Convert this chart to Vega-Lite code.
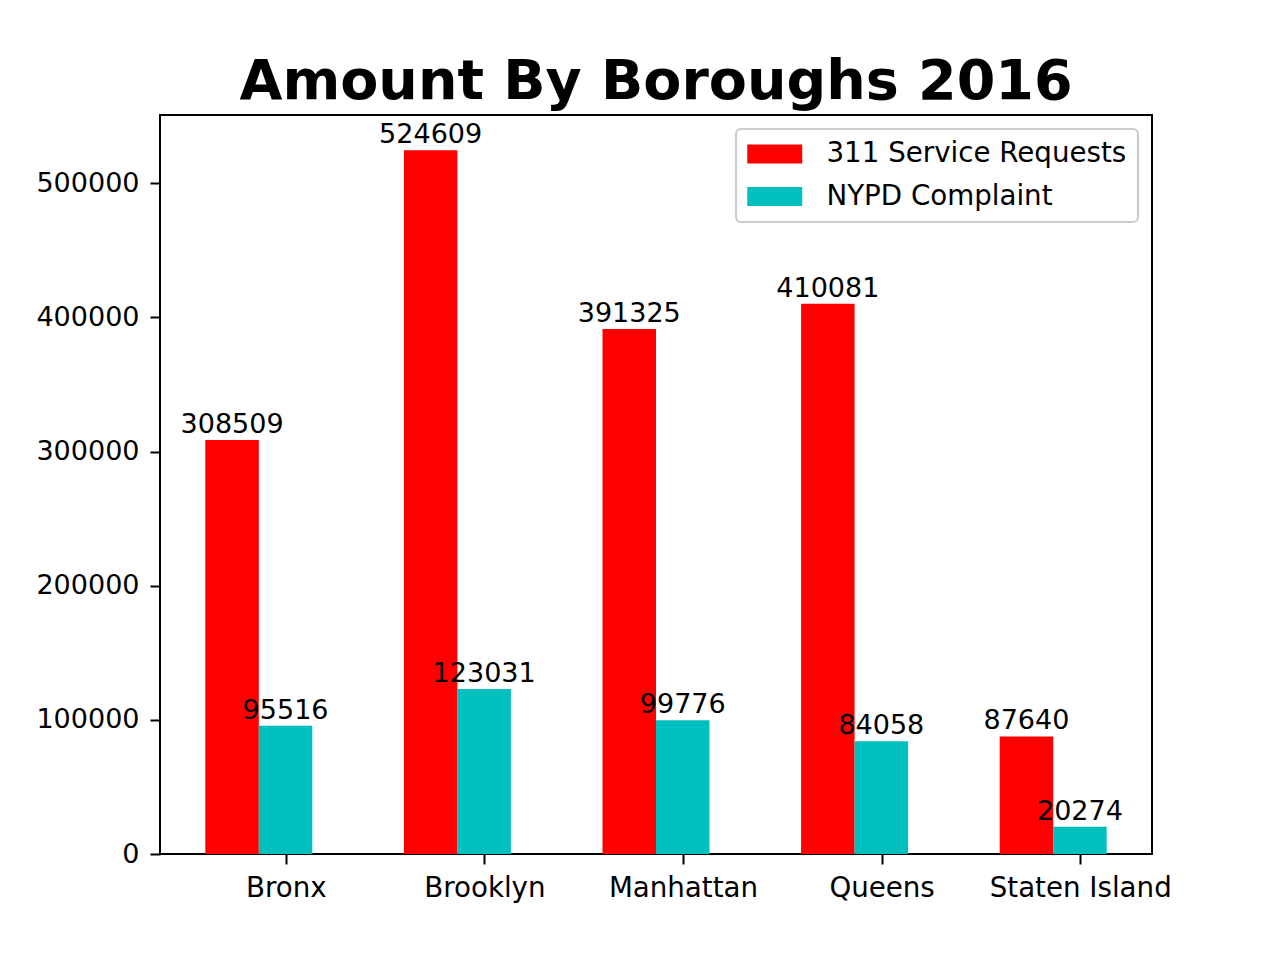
{
  "$schema": "https://vega.github.io/schema/vega-lite/v6.json",
  "width": 992,
  "height": 739,
  "autosize": {"type": "none"},
  "padding": {"left": 160, "top": 115, "right": 128, "bottom": 106},
  "background": "white",
  "title": {
    "text": "Amount By Boroughs 2016",
    "font": "DejaVu Sans",
    "fontSize": 55.5,
    "fontWeight": "bold",
    "color": "black",
    "anchor": "middle",
    "frame": "group",
    "baseline": "alphabetic",
    "offset": 14,
    "dy": 53
  },
  "config": {
    "font": "DejaVu Sans",
    "view": {"stroke": "black", "strokeWidth": 2},
    "axis": {
      "labelFont": "DejaVu Sans",
      "labelFontSize": 27,
      "labelColor": "black",
      "domainColor": "black",
      "domainWidth": 2,
      "tickColor": "black",
      "tickWidth": 2,
      "tickSize": 10,
      "grid": false,
      "title": null
    },
    "legend": {
      "fillColor": "white",
      "strokeColor": "#cccccc",
      "strokeWidth": 2.2,
      "cornerRadius": 5,
      "padding": 11
    }
  },
  "data": {
    "values": [
      {"borough": "Bronx", "series": "311 Service Requests", "amount": 308509},
      {"borough": "Brooklyn", "series": "311 Service Requests", "amount": 524609},
      {"borough": "Manhattan", "series": "311 Service Requests", "amount": 391325},
      {"borough": "Queens", "series": "311 Service Requests", "amount": 410081},
      {"borough": "Staten Island", "series": "311 Service Requests", "amount": 87640},
      {"borough": "Bronx", "series": "NYPD Complaint", "amount": 95516},
      {"borough": "Brooklyn", "series": "NYPD Complaint", "amount": 123031},
      {"borough": "Manhattan", "series": "NYPD Complaint", "amount": 99776},
      {"borough": "Queens", "series": "NYPD Complaint", "amount": 84058},
      {"borough": "Staten Island", "series": "NYPD Complaint", "amount": 20274}
    ]
  },
  "encoding": {
    "x": {
      "field": "borough",
      "type": "nominal",
      "sort": ["Bronx", "Brooklyn", "Manhattan", "Queens", "Staten Island"],
      "scale": {"paddingInner": 0.4612, "paddingOuter": 0.2281},
      "axis": {"labelAngle": 0, "tickOffset": 27, "labelPadding": 10, "labelFontSize": 27.7, "labelLimit": 400, "domain": false}
    },
    "xOffset": {
      "field": "series",
      "type": "nominal",
      "sort": ["311 Service Requests", "NYPD Complaint"],
      "scale": {"paddingInner": 0, "paddingOuter": 0}
    },
    "y": {
      "field": "amount",
      "type": "quantitative",
      "scale": {"domain": [0, 550839], "nice": false, "zero": true},
      "axis": {"values": [0, 100000, 200000, 300000, 400000, 500000], "format": "d", "labelPadding": 11, "domain": false}
    }
  },
  "layer": [
    {
      "mark": {"type": "bar"},
      "encoding": {
        "color": {
          "field": "series",
          "type": "nominal",
          "sort": ["311 Service Requests", "NYPD Complaint"],
          "scale": {"domain": ["311 Service Requests", "NYPD Complaint"], "range": ["#ff0000", "#00bfbf"]},
          "legend": {
            "title": null,
            "orient": "top-right",
            "offset": 14,
            "symbolType": "M-1,-0.7H3V0.7H-1Z",
            "symbolSize": 756,
            "symbolStrokeWidth": 0,
            "symbolOpacity": 1,
            "labelFont": "DejaVu Sans",
            "labelFontSize": 27.7,
            "labelColor": "black",
            "labelOffset": 51.5,
            "rowPadding": 14.5,
            "labelLimit": 600
          }
        }
      }
    },
    {
      "mark": {"type": "text", "font": "DejaVu Sans", "fontSize": 27, "color": "black", "baseline": "alphabetic", "align": "center", "dy": -7},
      "encoding": {
        "text": {"field": "amount", "type": "quantitative", "format": "d"}
      }
    }
  ]
}
